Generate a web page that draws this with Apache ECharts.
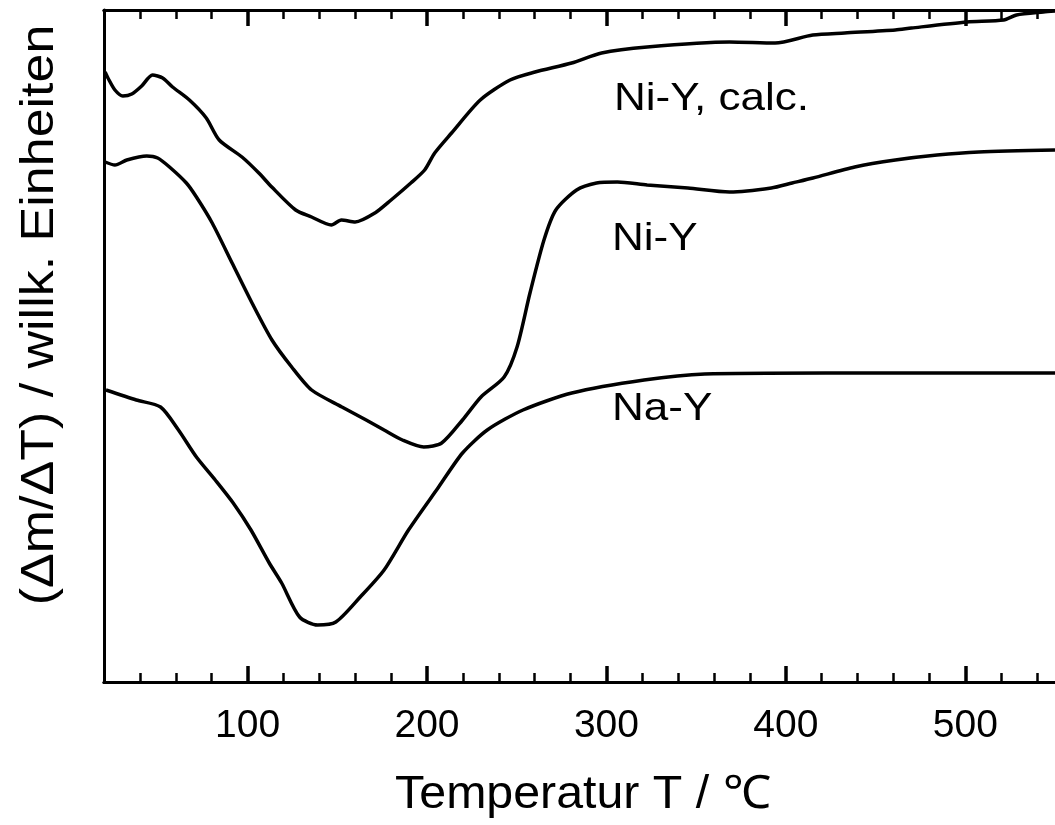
<!DOCTYPE html>
<html>
<head>
<meta charset="utf-8">
<script src="https://cdn.jsdelivr.net/npm/echarts@6/dist/echarts.min.js"></script>
<style>
  html, body { margin: 0; padding: 0; background: #fff; }
  #chart { width: 1055px; height: 825px; }
</style>
</head>
<body>
<div id="chart"></div>
<script>
// Temperatur / °C and signal (arbitrary units)
var tNiCalc = [20.6, 22.2, 26.1, 30.5, 35.5, 41, 47, 52.7, 58.2, 67.6, 77, 84.2, 96.9, 106.3, 113.5, 126.8, 135.7, 146.7, 152.3, 160, 171, 180, 191, 198.7, 204.3, 213.7, 229.7, 246.3, 260.2, 280.6, 297.3, 322.7, 368.6, 394, 415, 432.8, 461, 470, 501, 521.4, 528.6, 543.5, 550];
var yNiCalc = [6.10, 6.04, 5.92, 5.86, 5.88, 5.96, 6.07, 6.04, 5.95, 5.82, 5.64, 5.42, 5.25, 5.09, 4.95, 4.72, 4.65, 4.57, 4.62, 4.60, 4.69, 4.82, 4.99, 5.12, 5.29, 5.49, 5.82, 6.02, 6.10, 6.19, 6.29, 6.35, 6.40, 6.39, 6.47, 6.49, 6.52, 6.54, 6.60, 6.62, 6.67, 6.70, 6.71];

var tNi = [20.6, 26.1, 32.7, 43.8, 49.9, 56.5, 65.9, 71.5, 80.3, 91.4, 102.5, 113.6, 124.6, 135.7, 152.6, 166.1, 176.1, 186.3, 198.2, 208.2, 219.8, 230.1, 243, 250.2, 257.4, 265.2, 271.8, 283.4, 294.5, 306.1, 322.7, 345.4, 368.6, 391.9, 403.5, 415.1, 438.4, 461, 484.3, 507.5, 550];
var yNi = [5.20, 5.17, 5.22, 5.26, 5.24, 5.15, 4.99, 4.85, 4.59, 4.19, 3.79, 3.42, 3.15, 2.92, 2.75, 2.62, 2.52, 2.42, 2.35, 2.39, 2.62, 2.85, 3.05, 3.35, 3.89, 4.42, 4.72, 4.92, 4.99, 5.00, 4.97, 4.94, 4.90, 4.94, 4.99, 5.04, 5.15, 5.22, 5.27, 5.30, 5.32];

var tNa = [21.1, 38, 51.5, 61.5, 71.5, 82, 92, 101.9, 112.1, 119, 129, 139, 149.2, 162.8, 176.1, 189.7, 206.5, 219.8, 233.6, 253.5, 280.7, 321, 354.8, 422.3, 550];
var yNa = [2.92, 2.82, 2.75, 2.52, 2.25, 2.02, 1.79, 1.52, 1.19, 0.99, 0.65, 0.57, 0.60, 0.85, 1.12, 1.52, 1.95, 2.29, 2.52, 2.72, 2.89, 3.02, 3.08, 3.09, 3.09];

var majorTicks = [100, 200, 300, 400, 500];
var minorTicks = [40, 60, 80, 120, 140, 160, 180, 220, 240, 260, 280, 320, 340, 360, 380, 420, 440, 460, 480, 520, 540];

var seriesNames = ['Ni-Y, calc.', 'Ni-Y', 'Na-Y'];

function pairs(xs, ys) {
    return xs.map(function (x, i) { return [x, ys[i]]; });
}

var chart = echarts.init(document.getElementById('chart'));
var font = '"Liberation Sans", Arial, sans-serif';

// one axis per tick kind, top and bottom, all on the same grid
function tickAxis(pos, values, len, width, labels) {
    return {
        type: 'value',
        position: pos,
        min: 20,
        max: 550,
        axisLine: { show: true, lineStyle: { color: '#000', width: 3 } },
        axisTick: {
            show: true, inside: true, length: len, customValues: values,
            lineStyle: { color: '#000', width: width }
        },
        axisLabel: {
            show: labels, customValues: values, margin: 25,
            color: '#000', fontSize: 39, fontFamily: font
        },
        splitLine: { show: false }
    };
}

function label(text, left, top) {
    return {
        type: 'text', x: left, y: top, scaleX: 1.13,
        style: { text: text, fill: '#000', font: '39px ' + font }
    };
}

var option = {
    animation: false,
    grid: { left: 104, top: 10, right: -7, bottom: 143 },
    xAxis: [
        tickAxis('bottom', majorTicks, 16, 3.5, true),
        tickAxis('bottom', minorTicks, 9, 2.5, false),
        tickAxis('top', majorTicks, 16, 3.5, false),
        tickAxis('top', minorTicks, 9, 2.5, false)
    ],
    yAxis: {
        type: 'value',
        min: 0,
        max: 6.72,
        axisLine: { show: true, lineStyle: { color: '#000', width: 3 } },
        axisTick: { show: false },
        axisLabel: { show: false },
        splitLine: { show: false }
    },
    series: [
        { name: seriesNames[0], data: pairs(tNiCalc, yNiCalc) },
        { name: seriesNames[1], data: pairs(tNi, yNi) },
        { name: seriesNames[2], data: pairs(tNa, yNa) }
    ].map(function (s) {
        s.type = 'line';
        s.showSymbol = false;
        s.smooth = 0.25;
        s.lineStyle = { color: '#000', width: 3.5 };
        return s;
    }),
    graphic: [
        label(seriesNames[0], 614, 80),
        label(seriesNames[1], 612, 220),
        label(seriesNames[2], 612, 390),
        {
            type: 'text', x: 583, y: 795, scaleX: 1.05,
            style: {
                text: 'Temperatur T / ℃', fill: '#000', font: '46px ' + font,
                align: 'center', verticalAlign: 'middle'
            }
        },
        {
            type: 'text', x: 40, y: 315, rotation: Math.PI / 2, scaleX: 1.13,
            style: {
                text: '(Δm/ΔT) / willk. Einheiten', fill: '#000', font: '46px ' + font,
                align: 'center', verticalAlign: 'middle'
            }
        }
    ]
};

chart.setOption(option);
</script>
</body>
</html>
